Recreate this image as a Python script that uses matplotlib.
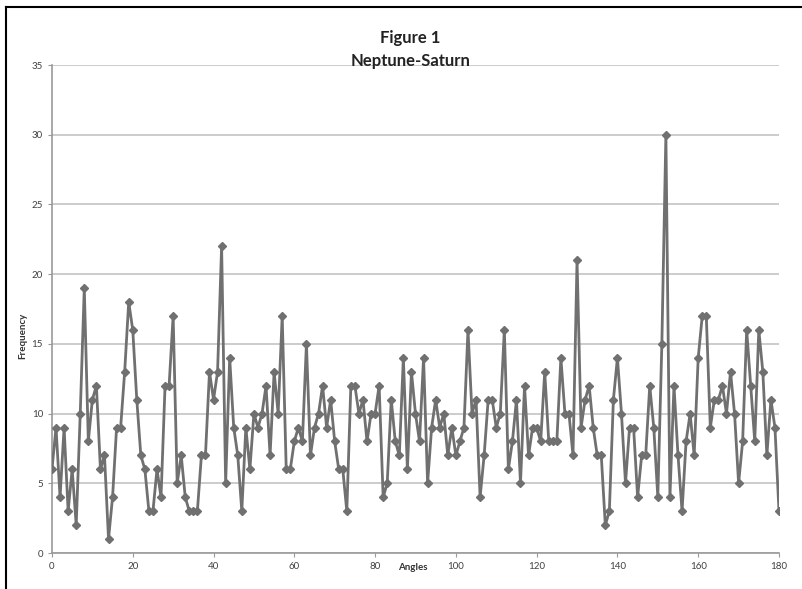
import matplotlib
matplotlib.use("Agg")
import matplotlib.pyplot as plt
import numpy as np

# --- data ---
angles = list(range(0, 181))
frequency = [
    6, 9, 4, 9, 3, 6, 2, 10, 19, 8,
    11, 12, 6, 7, 1, 4, 9, 9, 13, 18,
    16, 11, 7, 6, 3, 3, 6, 4, 12, 12,
    17, 5, 7, 4, 3, 3, 3, 7, 7, 13,
    11, 13, 22, 5, 14, 9, 7, 3, 9, 6,
    10, 9, 10, 12, 7, 13, 10, 17, 6, 6,
    8, 9, 8, 15, 7, 9, 10, 12, 9, 11,
    8, 6, 6, 3, 12, 12, 10, 11, 8, 10,
    10, 12, 4, 5, 11, 8, 7, 14, 6, 13,
    10, 8, 14, 5, 9, 11, 9, 10, 7, 9,
    7, 8, 9, 16, 10, 11, 4, 7, 11, 11,
    9, 10, 16, 6, 8, 11, 5, 12, 7, 9,
    9, 8, 13, 8, 8, 8, 14, 10, 10, 7,
    21, 9, 11, 12, 9, 7, 7, 2, 3, 11,
    14, 10, 5, 9, 9, 4, 7, 7, 12, 9,
    4, 15, 30, 4, 12, 7, 3, 8, 10, 7,
    14, 17, 17, 9, 11, 11, 12, 10, 13, 10,
    5, 8, 16, 12, 8, 16, 13, 7, 11, 9,
    3,
]
x_ticks = [0, 20, 40, 60, 80, 100, 120, 140, 160, 180]
y_ticks = [0, 5, 10, 15, 20, 25, 30, 35]

plt.rcParams['font.family'] = ['Lato', 'DejaVu Sans']

fig = plt.figure(figsize=(8.02, 5.89), dpi=100)
ax = fig.add_axes([0.0648, 0.0611, 0.9065, 0.8285])

line_col = '#707070'
ax.plot(angles, frequency, color=line_col, lw=2.0, marker='D', ms=4.5,
        mfc=line_col, mec=line_col, zorder=3)

ax.set_xlim(0, 180)
ax.set_ylim(0, 35)
ax.set_xticks(x_ticks)
ax.set_yticks(y_ticks)
ax.yaxis.grid(True, color='#c4c4c4', lw=1.2)
ax.set_axisbelow(True)
for s in ['top', 'right']:
    ax.spines[s].set_visible(False)
for s in ['left', 'bottom']:
    ax.spines[s].set_color('#999999')
    ax.spines[s].set_linewidth(1.2)
ax.tick_params(axis='both', labelsize=7, colors='#404040', length=3)
ax.tick_params(axis='x', color='#999999')
ax.tick_params(axis='y', color='#999999')

# titles and axis labels placed like the Excel original
fig.text(0.512, 0.935, 'Figure 1', ha='center', va='center',
         fontsize=12, fontweight='bold', color='#222222')
fig.text(0.512, 0.897, 'Neptune-Saturn', ha='center', va='center',
         fontsize=12, fontweight='bold', color='#222222')
fig.text(0.515, 0.037, 'Angles', ha='center', va='center',
         fontsize=7, fontweight='bold', color='#333333')
fig.text(0.028, 0.43, 'Frequency', ha='center', va='center', rotation=90,
         fontsize=7, fontweight='bold', color='#333333')

# outer frame (left and top edges only are visible in the crop)
fig.add_artist(plt.Line2D([0.007, 0.007], [0.0, 0.988], color='black', lw=1.5))
fig.add_artist(plt.Line2D([0.007, 1.0], [0.988, 0.988], color='black', lw=1.5))

fig.savefig('out.png', dpi=100)
